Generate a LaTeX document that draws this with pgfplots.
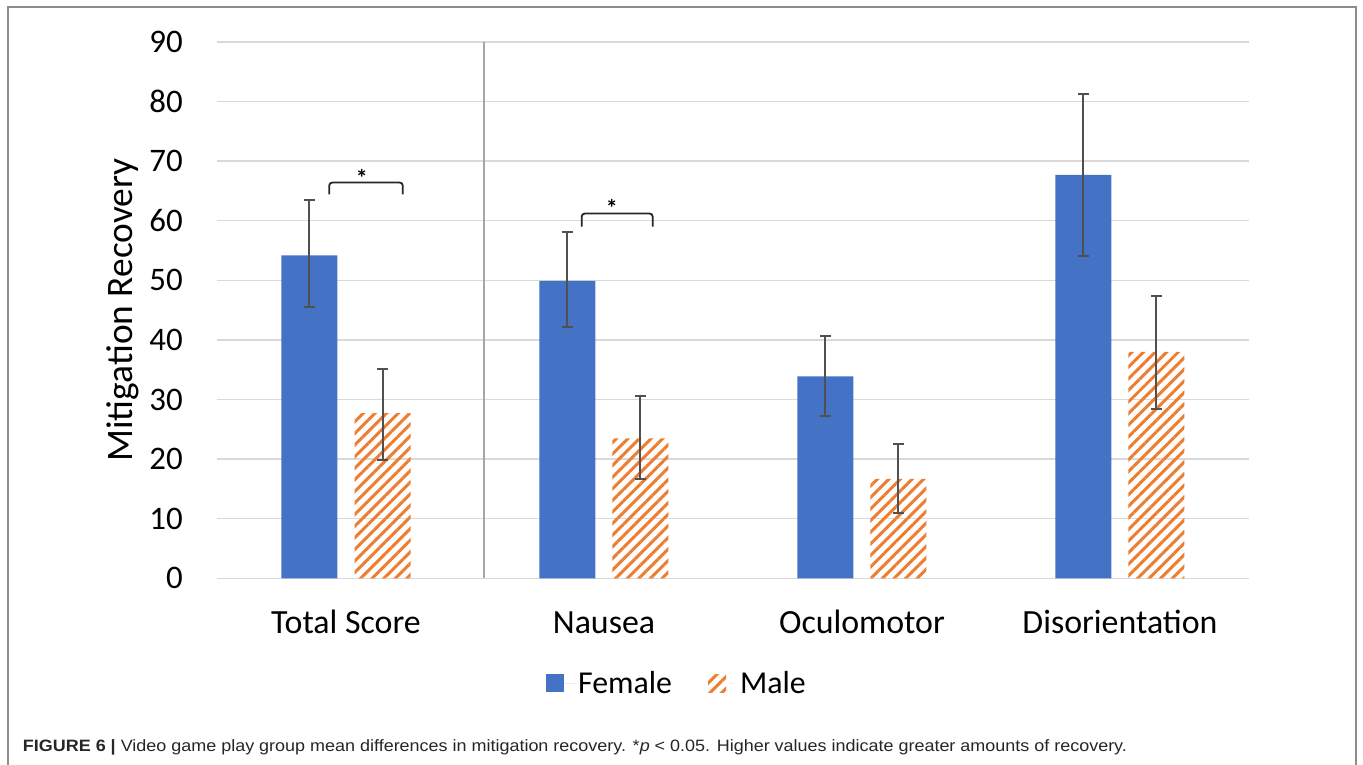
\documentclass[border=0pt]{standalone}
\usepackage{pgfplots}
\pgfplotsset{compat=1.18}
\usepackage{graphicx}
\usepackage{fontspec}
\setmainfont{Carlito}
\newfontfamily\capfont{Liberation Sans}
\usetikzlibrary{patterns.meta}
\definecolor{barblue}{HTML}{4472C4}
\definecolor{barorange}{HTML}{ED7D31}
\definecolor{gridgray}{HTML}{D9D9D9}
\definecolor{sepgray}{HTML}{A6A6A6}
\definecolor{errgray}{HTML}{505050}
\definecolor{framegray}{HTML}{8C8C8C}
\pgfplotstableread{
x y ep em
-0.1415 54.2 9.3 8.6
0.8585 49.9 8.2 7.7
1.8585 33.9 6.8 6.7
2.8585 67.7 13.5 13.7
}\female
\pgfplotstableread{
x y ep em
0.1415 27.7 7.5 7.9
1.1415 23.5 7.1 6.8
2.1415 16.7 5.8 5.7
3.1415 38.0 9.4 9.6
}\male
\begin{document}
\begin{tikzpicture}
\path[use as bounding box] (0,0) rectangle (1363bp,-765bp);
\draw[framegray, line width=2bp] (8bp,-766bp) -- (8bp,-7bp) -- (1356bp,-7bp) -- (1356bp,-766bp);
\begin{axis}[
  scale only axis, width=1032bp, height=536.4bp,
  at={(217bp,-578.3bp)}, anchor=south west,
  xmin=-0.5, xmax=3.5, ymin=0, ymax=90,
  ytick={0,10,...,90}, xtick={0,1,2,3},
  xticklabels={Total Score, Nausea, Oculomotor, Disorientation},
  ymajorgrids, grid style={draw=gridgray, line width=1.5bp},
  axis line style={draw=none}, major tick length=0pt,
  /pgf/number format/assume math mode=true,
  yticklabel style={font=\fontsize{33}{40}\selectfont, anchor=east, inner sep=0pt, xshift=-34bp},
  xticklabel style={font=\fontsize{34}{40}\selectfont, anchor=base, inner sep=0pt, yshift=-55bp},
  ylabel={Mitigation Recovery},
  ylabel style={font=\fontsize{37.5}{44}\selectfont, at={(axis description cs:-0.091,0.5)}, anchor=center, inner sep=0pt},
  legend style={at={(axis description cs:0.4457,-0.1952)}, anchor=center, draw=none, fill=none,
    font=\fontsize{32}{38}\selectfont, /tikz/every even column/.append style={column sep=34bp}},
  legend columns=2, legend cell align=left,
  clip=false,
]
\addplot[ybar, bar width=56bp, bar shift=0pt, fill=barblue, draw=none,
  error bars/.cd, y dir=both, y explicit,
  error bar style={draw=errgray, line width=2bp},
  error mark options={draw=errgray, line width=2bp, mark size=5.5bp, rotate=90},
  /pgfplots/legend image code/.code={\fill[barblue] (0bp,-9bp) rectangle (18bp,9bp); \path (0bp,0bp) -- (30bp,0bp);}]
  table[x=x, y=y, y error plus=ep, y error minus=em] {\female};
\addlegendentry{Female}
\addplot[ybar, bar width=56bp, bar shift=0pt, draw=none,
  pattern={Lines[angle=45,distance=8.2bp,line width=3bp]}, pattern color=barorange,
  error bars/.cd, y dir=both, y explicit,
  error bar style={draw=errgray, line width=2bp},
  error mark options={draw=errgray, line width=2bp, mark size=5.5bp, rotate=90},
  /pgfplots/legend image code/.code={\path[pattern={Lines[angle=45,distance=8.2bp,line width=3bp]}, pattern color=barorange] (0bp,-9bp) rectangle (18bp,9bp); \path (0bp,0bp) -- (30bp,0bp);}]
  table[x=x, y=y, y error plus=ep, y error minus=em] {\male};
\addlegendentry{Male}
\addplot[forget plot, sharp plot, draw=sepgray, line width=2bp, mark=none] coordinates {(0.535,0) (0.535,90)};
\addplot[forget plot, sharp plot, draw=black!85, line width=1.8bp, mark=none, rounded corners=3bp] coordinates {(-0.065,64.4) (-0.065,66.4) (0.22,66.4) (0.22,64.4)};
\addplot[forget plot, sharp plot, draw=black!85, line width=1.8bp, mark=none, rounded corners=3bp] coordinates {(0.9136,59.0) (0.9136,61.2) (1.1888,61.2) (1.1888,59.0)};
\node[font=\fontsize{24}{28}\selectfont\bfseries, inner sep=0pt] at (axis cs:0.061,67.2) {*};
\node[font=\fontsize{24}{28}\selectfont\bfseries, inner sep=0pt] at (axis cs:1.03,62.2) {*};
\end{axis}
\node[anchor=base west, inner sep=0pt, text=black!85] at (22.7bp,-751bp) {\resizebox{1104bp}{\height}{\capfont\fontsize{16.5}{19}\selectfont\textbf{FIGURE 6 |} Video game play group mean differences in mitigation recovery. *\textit{p} < 0.05. Higher values indicate greater amounts of recovery.}};
\end{tikzpicture}
\end{document}
